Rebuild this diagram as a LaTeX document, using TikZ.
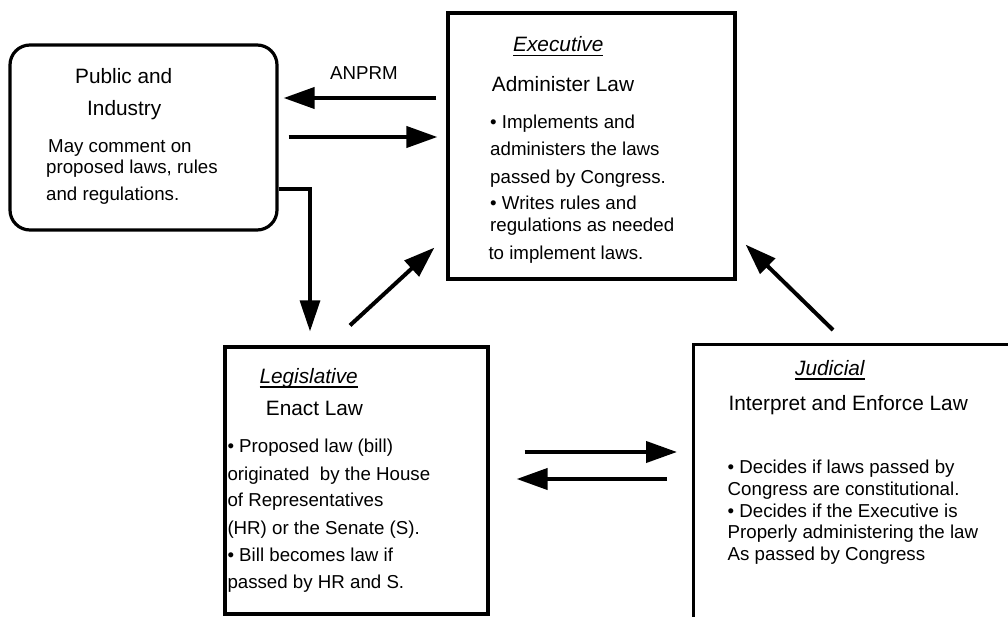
\documentclass[tikz,border=0pt]{standalone}
\usepackage{fontspec}
\setmainfont{Liberation Sans}
\usetikzlibrary{arrows.meta}
\newcommand\bodyfont{\fontsize{18.7}{22}\selectfont}
\newcommand\headfont{\fontsize{20.8}{24}\selectfont}
\newcommand\myul[1]{\setbox0\hbox{#1}\rlap{\rule[-4.5pt]{\wd0}{1.6pt}}\box0}
\tikzset{
  box/.style={draw, line width=3.2pt, inner sep=0pt, minimum width=#1},
  pubbox/.style={draw, line width=3.2pt, rounded corners=20pt, inner sep=0pt},
  txt/.style={anchor=base west, inner sep=0pt, font=\bodyfont},
  head/.style={anchor=base west, inner sep=0pt, font=\headfont},
  arr/.style={line width=4pt, -{Triangle[length=31pt,width=21pt]}},
  arrthin/.style={line width=3.2pt, miter limit=10, -{Triangle[length=31pt,width=20pt]}},
}
\begin{document}
\begin{tikzpicture}[x=1pt,y=-1pt]
\path[use as bounding box] (0,0) rectangle (1008,617);
\clip (0,0) rectangle (1008,617);
\fill[white] (0,0) rectangle (1008,617);
% boxes
\node[pubbox, minimum width=267pt, minimum height=185pt] (pub) at (143.5,137.5) {};
\node[box=287pt, minimum height=266pt] (exec) at (591.5,146) {};
\node[box=263pt, minimum height=267pt] (leg) at (356.5,480.5) {};
\node[box=330pt, minimum height=275pt, anchor=north west] (jud) at (692,343) {};
% public text
\node[head] (p1) at (75,83.3) {Public and};
\node[head] (p2) at (87,116) {Industry};
\node[txt] (p3) at (48,152.7) {May comment on};
\node[txt] (p4) at (46,174) {proposed laws, rules};
\node[txt] (p5) at (46,200.7) {and regulations.};
% executive text
\node[head] (e1) at (513,51.7) {\myul{\itshape Executive}};
\node[head] (e2) at (491.7,91.7) {Administer Law};
\node[txt] (e3) at (490,128.3) {• Implements and};
\node[txt] (e4) at (490,156) {administers the laws};
\node[txt] (e5) at (490,183.3) {passed by Congress.};
\node[txt] (e6) at (490,209.3) {• Writes rules and};
\node[txt] (e7) at (490,231.7) {regulations as needed};
\node[txt] (e8) at (488.3,260) {to implement laws.};
% legislative text
\node[head] (l1) at (259.3,383.3) {\myul{\itshape Legislative}};
\node[head] (l2) at (265.7,415) {Enact Law};
\node[txt] (l3) at (227.3,452.7) {• Proposed law (bill)};
\node[txt] (l4) at (227.3,480) {originated~ by the House};
\node[txt] (l5) at (227.3,506.7) {of Representatives};
\node[txt] (l6) at (227.3,534) {(HR) or the Senate (S).};
\node[txt] (l7) at (227.3,561.7) {• Bill becomes law if};
\node[txt] (l8) at (227.3,588.3) {passed by HR and S.};
% judicial text
\node[head] (j1) at (795,375) {\myul{\itshape Judicial}};
\node[head] (j2) at (728.3,410) {Interpret and Enforce Law};
\node[txt] (j3) at (727.5,473.5) {• Decides if laws passed by};
\node[txt] (j4) at (727.5,495) {Congress are constitutional.};
\node[txt] (j5) at (727.5,517) {• Decides if the Executive is};
\node[txt] (j6) at (727.5,538.5) {Properly administering the law};
\node[txt] (j7) at (727.5,560) {As passed by Congress};
% label
\node[txt] (anprm) at (330,79.3) {ANPRM};
% connectors
\draw[arr, shorten <=10pt, shorten >=5pt] ([yshift=48pt]exec.west) -- ([yshift=48pt]exec.west -| pub.east);
\draw[arr, shorten <=10pt, shorten >=9pt] ([yshift=0.5pt]pub.east) -- ([yshift=0.5pt]pub.east -| exec.west);
\draw[arrthin, shorten >=14pt] ([yshift=-51.5pt]pub.east) -| ([xshift=-46.5pt]leg.north);
\draw[arr] ([shift={(-6.5pt,20pt)}]leg.north) -- ([shift={(-12pt,33pt)}]exec.south west);
\draw[arr] ([shift={(141pt,13pt)}]jud.north west) -- ([shift={(9pt,36pt)}]exec.south east);
\draw[arr, shorten <=35pt, shorten >=15pt] ([yshift=28.5pt]leg.east) -- ([yshift=28.5pt]leg.east -| jud.west);
\draw[arr, shorten <=25pt, shorten >=27pt] ([yshift=1.5pt]leg.east -| jud.west) -- ([yshift=1.5pt]leg.east);
\end{tikzpicture}
\end{document}
